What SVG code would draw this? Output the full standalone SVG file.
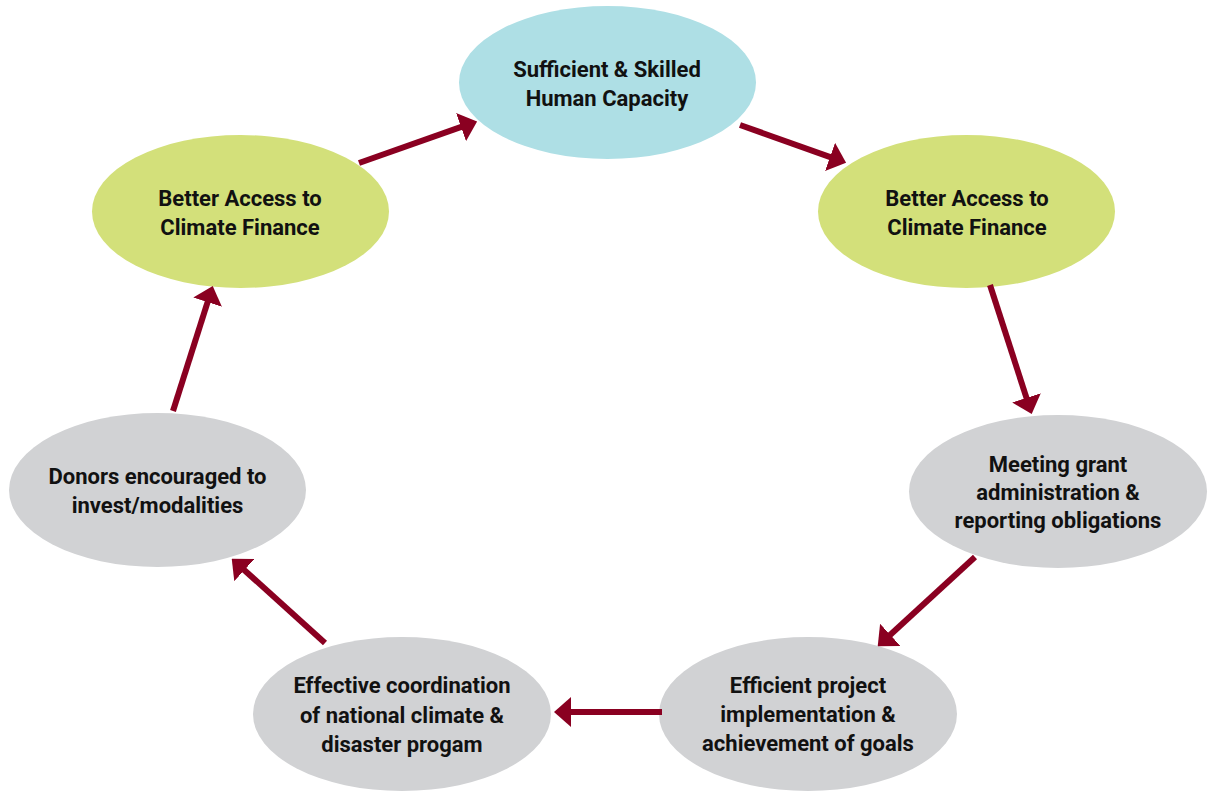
<svg xmlns="http://www.w3.org/2000/svg" width="1208" height="791" viewBox="0 0 1208 791">
<style>
.lbl{font-family:Roboto,"Liberation Sans",Arial,sans-serif;font-weight:700;font-size:22px;fill:#111;text-anchor:middle}
.blue{fill:#AEDFE5}
.green{fill:#D3E07A}
.gray{fill:#D1D2D4}
.conn{stroke:#8A0021;stroke-width:6;fill:none;marker-end:url(#ah)}
</style>
<defs>
<marker id="ah" markerUnits="userSpaceOnUse" viewBox="0 0 17 30" markerWidth="17" markerHeight="30" refX="1" refY="15" orient="auto">
<path d="M0,0 L17,15 L0,30 Z" fill="#8A0021"/>
</marker>
</defs>
<rect width="1208" height="791" fill="#fff"/>
<g id="n-top">
<ellipse class="blue" cx="607.5" cy="82.5" rx="148.5" ry="76.5"/>
<text class="lbl" x="607" y="77">Sufficient &amp; Skilled</text>
<text class="lbl" x="607" y="106">Human Capacity</text>
</g>
<g id="n-right-green">
<ellipse class="green" cx="966.5" cy="211.5" rx="148.5" ry="76.5"/>
<text class="lbl" x="967" y="206">Better Access to</text>
<text class="lbl" x="967" y="235">Climate Finance</text>
</g>
<g id="n-right-gray">
<ellipse class="gray" cx="1058" cy="491.5" rx="149" ry="76.5"/>
<text class="lbl" x="1058" y="472">Meeting grant</text>
<text class="lbl" x="1058" y="500">administration &amp;</text>
<text class="lbl" x="1058" y="528">reporting obligations</text>
</g>
<g id="n-bottom-right">
<ellipse class="gray" cx="808" cy="714" rx="149" ry="77"/>
<text class="lbl" x="808" y="693">Efficient project</text>
<text class="lbl" x="808" y="722">implementation &amp;</text>
<text class="lbl" x="808" y="751">achievement of goals</text>
</g>
<g id="n-bottom-left">
<ellipse class="gray" cx="402" cy="714" rx="149" ry="77"/>
<text class="lbl" x="402" y="693">Effective coordination</text>
<text class="lbl" x="402" y="723">of national climate &amp;</text>
<text class="lbl" x="402" y="752">disaster progam</text>
</g>
<g id="n-left-gray">
<ellipse class="gray" cx="157.5" cy="490" rx="148.5" ry="77"/>
<text class="lbl" x="157.5" y="484">Donors encouraged to</text>
<text class="lbl" x="157.5" y="513">invest/modalities</text>
</g>
<g id="n-left-green">
<ellipse class="green" cx="240.5" cy="211.5" rx="148.5" ry="76.5"/>
<text class="lbl" x="240" y="206">Better Access to</text>
<text class="lbl" x="240" y="235">Climate Finance</text>
</g>
<g id="connectors">
<line class="conn" x1="359" y1="163" x2="462" y2="126.7"/>
<line class="conn" x1="740" y1="125" x2="831" y2="157.3"/>
<line class="conn" x1="990" y1="285" x2="1026.8" y2="398.8"/>
<line class="conn" x1="975" y1="557" x2="889.5" y2="635.5"/>
<line class="conn" x1="662" y1="712" x2="570" y2="712"/>
<line class="conn" x1="325" y1="643" x2="243.6" y2="569.4"/>
<line class="conn" x1="173" y1="411" x2="207.9" y2="301.2"/>
</g>
</svg>
